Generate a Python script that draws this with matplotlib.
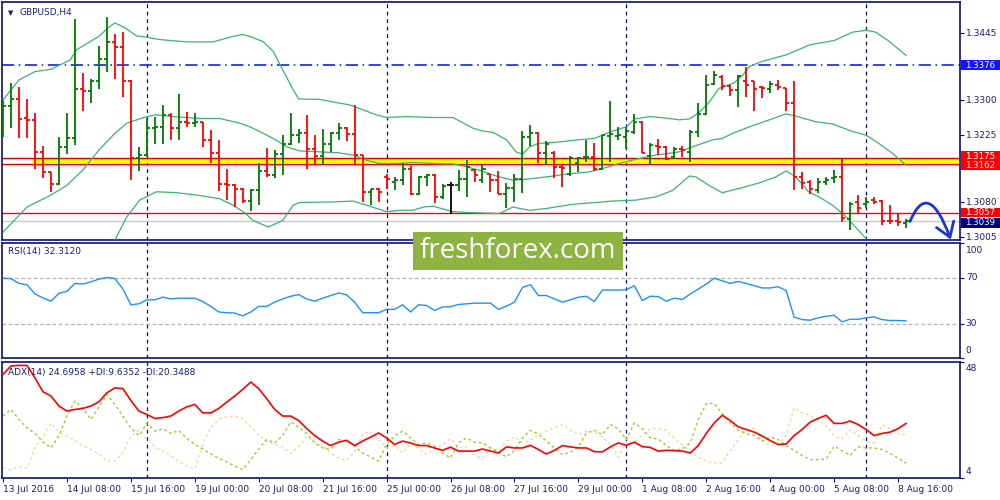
import matplotlib
matplotlib.use("Agg")
import matplotlib.pyplot as plt
import matplotlib.transforms as mtransforms
from matplotlib.collections import LineCollection
from matplotlib.patches import Rectangle, FancyArrowPatch
from matplotlib.path import Path

plt.rcParams['font.family'] = ['DejaVu Sans']

# GBPUSD H4 bars, 13 Jul 2016 00:00 .. 8 Aug 2016 20:00
opens = [1.3283, 1.3288, 1.3302, 1.3261, 1.3258, 1.3189, 1.3145, 1.3119, 1.3200, 1.3218,
         1.3324, 1.3320, 1.3341, 1.3389, 1.3425, 1.3415, 1.3341, 1.3175, 1.3182, 1.3240,
         1.3243, 1.3269, 1.3241, 1.3254, 1.3252, 1.3253, 1.3215, 1.3186, 1.3119, 1.3117,
         1.3109, 1.3083, 1.3106, 1.3147, 1.3139, 1.3184, 1.3206, 1.3225, 1.3229, 1.3195,
         1.3181, 1.3207, 1.3229, 1.3240, 1.3227, 1.3182, 1.3103, 1.3108, 1.3135, 1.3124,
         1.3128, 1.3153, 1.3099, 1.3135, 1.3139, 1.3092, 1.3117, 1.3117, 1.3130, 1.3150,
         1.3128, 1.3142, 1.3129, 1.3099, 1.3112, 1.3130, 1.3222, 1.3229, 1.3186, 1.3186,
         1.3157, 1.3142, 1.3164, 1.3177, 1.3178, 1.3153, 1.3223, 1.3223, 1.3222, 1.3231,
         1.3254, 1.3180, 1.3202, 1.3200, 1.3178, 1.3196, 1.3189, 1.3231, 1.3270, 1.3336,
         1.3350, 1.3331, 1.3323, 1.3342, 1.3341, 1.3328, 1.3324, 1.3333, 1.3326, 1.3294,
         1.3135, 1.3124, 1.3106, 1.3124, 1.3132, 1.3135, 1.3045, 1.3081, 1.3077, 1.3085,
         1.3083, 1.3041, 1.3041, 1.3036]
highs = [1.3301, 1.3337, 1.3328, 1.3303, 1.3272, 1.3202, 1.3145, 1.3220, 1.3272, 1.3476,
         1.3360, 1.3346, 1.3418, 1.3479, 1.3443, 1.3447, 1.3344, 1.3200, 1.3261, 1.3265,
         1.3290, 1.3272, 1.3314, 1.3274, 1.3272, 1.3253, 1.3236, 1.3215, 1.3152, 1.3119,
         1.3112, 1.3108, 1.3166, 1.3198, 1.3193, 1.3225, 1.3272, 1.3238, 1.3269, 1.3225,
         1.3238, 1.3231, 1.3252, 1.3243, 1.3289, 1.3182, 1.3110, 1.3111, 1.3142, 1.3135,
         1.3164, 1.3159, 1.3137, 1.3142, 1.3142, 1.3119, 1.3124, 1.3150, 1.3171, 1.3153,
         1.3160, 1.3142, 1.3147, 1.3121, 1.3142, 1.3233, 1.3247, 1.3231, 1.3213, 1.3191,
         1.3160, 1.3181, 1.3178, 1.3215, 1.3209, 1.3225, 1.3299, 1.3243, 1.3243, 1.3270,
         1.3256, 1.3209, 1.3216, 1.3202, 1.3199, 1.3202, 1.3236, 1.3294, 1.3355, 1.3364,
         1.3355, 1.3333, 1.3355, 1.3371, 1.3342, 1.3331, 1.3342, 1.3344, 1.3326, 1.3342,
         1.3146, 1.3128, 1.3132, 1.3135, 1.3150, 1.3173, 1.3081, 1.3096, 1.3091, 1.3092,
         1.3085, 1.3075, 1.3058, 1.3045]
lows = [1.3222, 1.3241, 1.3218, 1.3218, 1.3153, 1.3132, 1.3103, 1.3117, 1.3184, 1.3204,
        1.3276, 1.3294, 1.3324, 1.3362, 1.3346, 1.3308, 1.3128, 1.3148, 1.3178, 1.3207,
        1.3207, 1.3215, 1.3215, 1.3243, 1.3243, 1.3200, 1.3166, 1.3104, 1.3086, 1.3070,
        1.3079, 1.3062, 1.3075, 1.3135, 1.3132, 1.3140, 1.3204, 1.3209, 1.3153, 1.3160,
        1.3160, 1.3188, 1.3215, 1.3212, 1.3160, 1.3081, 1.3075, 1.3081, 1.3109, 1.3106,
        1.3117, 1.3096, 1.3096, 1.3116, 1.3079, 1.3087, 1.3054, 1.3104, 1.3092, 1.3124,
        1.3122, 1.3103, 1.3099, 1.3068, 1.3080, 1.3101, 1.3202, 1.3166, 1.3160, 1.3133,
        1.3114, 1.3137, 1.3146, 1.3168, 1.3148, 1.3150, 1.3168, 1.3215, 1.3196, 1.3227,
        1.3186, 1.3160, 1.3182, 1.3171, 1.3173, 1.3178, 1.3168, 1.3220, 1.3269, 1.3333,
        1.3323, 1.3310, 1.3285, 1.3308, 1.3278, 1.3306, 1.3315, 1.3323, 1.3277, 1.3106,
        1.3108, 1.3099, 1.3101, 1.3117, 1.3121, 1.3038, 1.3020, 1.3056, 1.3067, 1.3076,
        1.3031, 1.3033, 1.3029, 1.3025]
closes = [1.3288, 1.3302, 1.3259, 1.3258, 1.3189, 1.3145, 1.3119, 1.3200, 1.3218, 1.3324,
          1.3320, 1.3341, 1.3389, 1.3425, 1.3415, 1.3341, 1.3175, 1.3182, 1.3241, 1.3243,
          1.3269, 1.3241, 1.3254, 1.3252, 1.3253, 1.3215, 1.3186, 1.3119, 1.3117, 1.3109,
          1.3083, 1.3106, 1.3147, 1.3139, 1.3184, 1.3206, 1.3225, 1.3229, 1.3195, 1.3181,
          1.3207, 1.3229, 1.3240, 1.3227, 1.3182, 1.3103, 1.3108, 1.3103, 1.3130, 1.3128,
          1.3153, 1.3099, 1.3135, 1.3139, 1.3092, 1.3116, 1.3117, 1.3130, 1.3157, 1.3139,
          1.3151, 1.3129, 1.3099, 1.3112, 1.3130, 1.3222, 1.3229, 1.3186, 1.3206, 1.3157,
          1.3155, 1.3175, 1.3175, 1.3178, 1.3153, 1.3225, 1.3227, 1.3225, 1.3233, 1.3254,
          1.3186, 1.3204, 1.3200, 1.3173, 1.3196, 1.3193, 1.3231, 1.3270, 1.3333, 1.3354,
          1.3331, 1.3323, 1.3353, 1.3333, 1.3324, 1.3326, 1.3335, 1.3328, 1.3294, 1.3134,
          1.3122, 1.3110, 1.3124, 1.3128, 1.3135, 1.3047, 1.3077, 1.3067, 1.3081, 1.3081,
          1.3041, 1.3040, 1.3038, 1.3039]

# Bollinger bands (bar index, price)
bb_up_x = [0, 2, 4, 6, 8.4, 9.2, 12, 13, 14, 15.3, 16.7, 18, 19.6, 23, 26.3, 28.8, 30, 31, 32.5,
           33.8, 35, 36.3, 37, 39.6, 43.4, 46.7, 48, 50.5, 53.8, 56.3, 58.8, 60, 61.3, 63, 64.2,
           65, 65.9, 67, 70, 72, 74, 76, 78, 79, 81, 83.4, 84.6, 85.9, 87, 88.4, 89.6, 91.4,
           92.6, 93.4, 95, 98, 101, 104, 106.3, 108, 109.2, 110.9, 113]
bb_up = [1.3301, 1.3344, 1.3362, 1.3367, 1.3387, 1.3409, 1.3438, 1.3454, 1.3467, 1.3456,
         1.3439, 1.3436, 1.3431, 1.3426, 1.3426, 1.3438, 1.3442, 1.3437, 1.3427, 1.3406,
         1.3366, 1.3323, 1.3303, 1.3302, 1.3290, 1.3269, 1.3263, 1.3265, 1.3263, 1.3263,
         1.3240, 1.3234, 1.3231, 1.3215, 1.3189, 1.3184, 1.3200, 1.3207, 1.3211, 1.3215,
         1.3218, 1.3232, 1.3243, 1.3260, 1.3265, 1.3261, 1.3258, 1.3260, 1.3272, 1.3297,
         1.3326, 1.3337, 1.3355, 1.3373, 1.3384, 1.3398, 1.3420, 1.3429, 1.3447, 1.3451,
         1.3447, 1.3427, 1.3397]
bb_mid_x = [0, 3, 6, 8, 10, 12, 14, 15.5, 18, 19.2, 21.3, 24.6, 27.1, 29.6, 30.9, 32.1, 33.8,
            35.5, 37.1, 39.6, 42, 43.8, 45.5, 47.1, 49.2, 51.3, 53.8, 56.3, 58, 60, 61.7, 63.8,
            65.5, 68, 70.5, 73.4, 75, 77.1, 79.2, 81.7, 84.6, 86.3, 88.8, 90, 91.3, 93.4, 95.9,
            98, 99.2, 101.7, 103.8, 106.3, 108, 109.6, 111.3, 113]
bb_mid = [1.3016, 1.3070, 1.3096, 1.3117, 1.3150, 1.3193, 1.3229, 1.3251, 1.3265, 1.3269,
          1.3265, 1.3261, 1.3261, 1.3251, 1.3243, 1.3233, 1.3218, 1.3200, 1.3191, 1.3189,
          1.3187, 1.3182, 1.3171, 1.3164, 1.3164, 1.3166, 1.3164, 1.3163, 1.3157, 1.3147,
          1.3137, 1.3128, 1.3130, 1.3135, 1.3141, 1.3146, 1.3153, 1.3164, 1.3173, 1.3182,
          1.3189, 1.3200, 1.3215, 1.3218, 1.3229, 1.3243, 1.3258, 1.3271, 1.3266, 1.3254,
          1.3249, 1.3233, 1.3225, 1.3207, 1.3186, 1.3160]
bb_low_x = [14, 15.5, 17.1, 19.2, 21.7, 24.6, 27.1, 28.8, 30.3, 31.3, 33.2, 35, 36.3, 37.1,
            41.3, 43.8, 45.5, 48, 49.6, 51.3, 52.6, 53.8, 56.3, 58.6, 62.1, 63.8, 65.9, 68,
            71.3, 74.2, 76.3, 79.2, 81.7, 83.8, 85.9, 86.7, 88.5, 90, 92.1, 94.6, 96.7, 98,
            99.2, 100.8, 102.1, 103.8, 105.5, 108]
bb_low = [1.2999, 1.3049, 1.3085, 1.3103, 1.3101, 1.3095, 1.3088, 1.3074, 1.3057, 1.3041,
          1.3027, 1.3041, 1.3074, 1.3080, 1.3081, 1.3083, 1.3074, 1.3060, 1.3063, 1.3063,
          1.3070, 1.3072, 1.3060, 1.3058, 1.3056, 1.3070, 1.3063, 1.3067, 1.3076, 1.3080,
          1.3083, 1.3085, 1.3092, 1.3106, 1.3137, 1.3135, 1.3115, 1.3101, 1.3110, 1.3122,
          1.3135, 1.3148, 1.3135, 1.3103, 1.3092, 1.3074, 1.3049, 1.3002]

rsi = [69.4, 69.0, 64.9, 63.7, 55.7, 52.3, 49.4, 56.3, 58.0, 64.9,
       64.3, 66.3, 68.6, 70.0, 69.1, 60.0, 46.3, 47.1, 50.6, 50.6,
       52.9, 51.4, 52.0, 52.0, 52.0, 49.1, 44.9, 40.0, 39.4, 39.1,
       36.6, 40.0, 44.9, 44.9, 48.6, 51.4, 53.7, 55.1, 51.4, 49.4,
       52.0, 54.3, 56.6, 54.9, 48.6, 39.4, 39.4, 39.4, 42.3, 42.3,
       46.3, 40.0, 46.3, 45.7, 41.4, 44.3, 44.6, 46.6, 47.1, 47.7,
       47.7, 47.7, 42.3, 45.1, 48.6, 61.4, 63.7, 54.3, 54.3, 51.4,
       48.6, 50.6, 52.9, 53.7, 49.1, 59.1, 59.1, 59.1, 59.4, 62.9,
       50.0, 53.7, 53.4, 49.4, 52.0, 50.9, 55.7, 60.0, 64.3, 69.4,
       67.1, 64.9, 66.6, 64.9, 62.9, 60.9, 60.9, 62.0, 58.6, 35.5,
       33.4, 32.9, 34.9, 36.3, 37.1, 31.4, 33.7, 33.7, 34.9, 35.7,
       33.4, 32.6, 32.6, 32.3]

adx = [43.3, 46.5, 46.7, 46.7, 42.0, 36.7, 35.1, 31.3, 29.4, 30.0,
       30.4, 31.3, 32.9, 36.3, 38.2, 37.9, 33.4, 29.4, 28.1, 26.6,
       26.9, 27.5, 29.4, 31.0, 31.9, 28.7, 28.7, 30.4, 32.8, 35.1,
       37.6, 40.4, 37.9, 34.1, 30.0, 27.5, 27.5, 25.8, 22.8, 20.1,
       18.0, 16.3, 17.6, 18.3, 16.3, 18.0, 19.5, 21.1, 19.2, 16.7,
       18.0, 17.3, 16.3, 16.3, 15.4, 14.5, 15.7, 14.2, 14.2, 14.2,
       15.0, 14.2, 13.5, 15.8, 15.4, 15.4, 16.4, 14.8, 13.1, 14.5,
       16.3, 15.8, 15.4, 15.4, 14.0, 13.9, 15.8, 17.3, 16.4, 17.6,
       15.9, 15.6, 14.2, 14.5, 14.4, 14.2, 13.5, 16.3, 20.9, 24.9,
       27.8, 25.8, 23.4, 22.4, 21.4, 19.9, 18.2, 16.7, 16.9, 20.1,
       22.4, 25.2, 26.6, 27.8, 24.7, 24.7, 25.6, 24.3, 22.4, 20.1,
       20.9, 21.4, 22.7, 24.7]
plus_di = [27.5, 30.0, 26.2, 23.0, 20.9, 17.7, 15.4, 20.1, 27.5, 33.2,
           30.3, 26.2, 30.9, 35.7, 31.9, 27.5, 23.0, 20.1, 24.7, 21.8,
           22.7, 20.9, 22.1, 19.0, 16.7, 15.0, 13.1, 11.5, 10.1, 8.5,
           7.2, 11.0, 15.0, 18.6, 17.3, 20.1, 25.3, 23.3, 20.9, 17.3,
           15.4, 14.8, 18.6, 18.0, 16.1, 13.5, 12.0, 10.4, 16.7, 19.9,
           21.8, 19.2, 16.7, 17.3, 16.1, 13.5, 11.6, 17.3, 19.2, 17.6,
           17.3, 15.4, 13.8, 12.0, 14.4, 19.2, 22.1, 20.7, 18.0, 15.4,
           12.9, 13.8, 15.8, 21.1, 22.1, 20.5, 24.3, 22.7, 18.6, 24.9,
           22.7, 19.2, 18.8, 16.3, 14.4, 15.0, 17.3, 26.2, 32.3, 32.3,
           28.4, 24.9, 22.1, 20.9, 20.1, 18.0, 19.5, 18.6, 16.3, 14.5,
           12.5, 11.0, 11.0, 11.2, 16.1, 14.4, 12.6, 15.8, 15.4, 15.4,
           14.8, 13.3, 11.6, 9.6]
minus_di = [7.8, 7.2, 8.2, 7.8, 15.4, 19.6, 24.7, 21.5, 19.9, 18.2,
            16.3, 14.8, 13.1, 10.4, 10.4, 13.8, 19.9, 22.1, 18.6, 15.8,
            14.2, 12.5, 10.4, 8.5, 7.4, 17.1, 23.0, 26.2, 27.2, 27.5,
            26.5, 23.3, 20.1, 18.0, 16.7, 15.8, 13.3, 15.8, 19.6, 18.0,
            16.3, 13.5, 11.6, 10.6, 14.2, 20.9, 21.4, 18.6, 15.4, 16.3,
            13.5, 17.3, 15.2, 12.9, 15.0, 16.7, 19.0, 15.4, 15.8, 12.5,
            11.5, 15.4, 14.5, 18.0, 19.6, 17.3, 18.3, 20.5, 21.8, 23.0,
            24.3, 22.0, 20.5, 21.8, 21.4, 19.6, 16.7, 11.9, 17.6, 17.3,
            20.5, 22.7, 22.7, 22.0, 19.0, 16.7, 14.2, 11.9, 10.4, 9.7,
            9.7, 14.5, 18.3, 22.4, 23.0, 18.2, 16.3, 16.7, 20.1, 30.6,
            28.7, 27.7, 25.8, 23.9, 19.9, 18.9, 22.4, 20.1, 18.0, 17.3,
            24.3, 22.7, 20.9, 20.35]

date_ticks = list(range(0, 113, 8))
date_labels = ["13 Jul 2016", "14 Jul 08:00", "15 Jul 16:00", "19 Jul 00:00", "20 Jul 08:00",
               "21 Jul 16:00", "25 Jul 00:00", "26 Jul 08:00", "27 Jul 16:00", "29 Jul 00:00",
               "1 Aug 08:00", "2 Aug 16:00", "4 Aug 00:00", "5 Aug 08:00", "8 Aug 16:00"]
week_lines = [18, 48, 78, 108]
price_ticks = [1.3445, 1.3370, 1.3300, 1.3225, 1.3155, 1.3080, 1.3005]

resistance = 1.3376
zone_top, zone_bot = 1.3175, 1.3162
support = 1.3057
bid = 1.3039
# hand drawn forecast arrow (bar, price)
arrow_pts = [(113.5, 1.3039), (115.0, 1.3100), (116.6, 1.3092), (118.6, 1.3000)]

NAVY = '#0c0c80'
TXT = '#1c1c78'
FS = 6.5
XMAX = 119.75

fig = plt.figure(figsize=(10, 5), dpi=100)
ax = fig.add_axes([0.002, 0.52, 0.958, 0.476])
ax_rsi = fig.add_axes([0.002, 0.284, 0.958, 0.23])
ax_adx = fig.add_axes([0.002, 0.044, 0.958, 0.232])

for a in (ax, ax_rsi, ax_adx):
    a.set_xlim(-0.125, XMAX)
    for s in a.spines.values():
        s.set_color(NAVY)
        s.set_linewidth(1.2)
    for w in week_lines:
        a.axvline(w, color=NAVY, lw=0.9, ls=(0, (3, 3)), zorder=1)
    a.yaxis.tick_right()
    a.tick_params(axis='y', length=3, color=NAVY, labelright=False, labelleft=False)

ax.set_xticks([])
ax_rsi.set_xticks([])

# ---- price panel
ax.set_ylim(1.2999, 1.3512)
ax.set_yticks(price_ticks)

segs, cols = [], []
for i in range(len(opens)):
    o, h, l, c = opens[i], highs[i], lows[i], closes[i]
    col = '#007a00' if c > o else ('#ff0000' if c < o else 'black')
    segs += [[(i, l), (i, h)], [(i - 0.38, o), (i, o)], [(i, c), (i + 0.38, c)]]
    cols += [col] * 3
ax.add_collection(LineCollection(segs, colors=cols, linewidths=1.3, zorder=4))

bb_col = '#3cb371'
ax.plot(bb_up_x, bb_up, color=bb_col, lw=0.9, zorder=3)
ax.plot(bb_mid_x, bb_mid, color=bb_col, lw=0.9, zorder=3)
ax.plot(bb_low_x, bb_low, color=bb_col, lw=0.9, zorder=3)

ax.axhline(resistance, color='#0010e0', lw=1.1, ls=(0, (8, 3, 1, 3)), zorder=2)
ax.axhline(bid, color='#c8c8c8', lw=1, zorder=2)
ax.axhline(support, color='#ff0000', lw=1, zorder=2)
# yellow zone with soft shadow
for k, al in enumerate([0.22, 0.15, 0.09, 0.04]):
    ax.add_patch(Rectangle((3.6, zone_bot - 0.0003 * (k + 1)), XMAX - 3.6, 0.0003,
                           color='#808080', alpha=al, lw=0, zorder=1.5))
ax.add_patch(Rectangle((3.6, zone_bot + 0.0002), XMAX - 3.6, zone_top - zone_bot - 0.0004,
                       color='#ffff00', lw=0, zorder=1.6))
ax.axhline(zone_top, color='#e00000', lw=1, zorder=2)
ax.axhline(zone_bot, color='#e00000', lw=1, zorder=2)

arrow = FancyArrowPatch(path=Path(arrow_pts, [Path.MOVETO, Path.CURVE4, Path.CURVE4, Path.CURVE4]),
                        arrowstyle='->,head_length=0.45,head_width=0.3', mutation_scale=22,
                        color='#1a35cc', lw=2, zorder=6, clip_on=False)
ax.add_patch(arrow)

trm = mtransforms.blended_transform_factory(ax.transAxes, ax.transData)
for p in price_ticks:
    if abs(p - 1.3370) < 1e-6 or abs(p - 1.3155) < 1e-6:
        continue
    ax.text(1.006, p, f"{p:.4f}", transform=trm, fontsize=FS, color=TXT, va='center', ha='left')

# price tags on the right edge; nudged apart where two tags would collide
trf = mtransforms.blended_transform_factory(fig.transFigure, ax.transData)
tag_h = 0.0021
boxes = [(resistance, 0.0, '#1414ff'), (zone_top, 0.00045, '#ff0000'),
         (zone_bot, -0.0002, '#ff0000'), (support, 0.0001, '#ff0000'), (bid, -0.0003, '#000080')]
for k, (p, shift, fc) in enumerate(boxes):
    yc = p + shift
    ax.add_patch(Rectangle((0.961, yc - tag_h / 2), 0.039, tag_h, transform=trf,
                           facecolor=fc, edgecolor='none', clip_on=False, zorder=7 + k))
    ax.text(0.965, yc, f"{p:.4f}", transform=trf, fontsize=6.2, color='white',
            va='center', ha='left', zorder=8 + k, clip_on=False)

ax.text(0.006, 0.955, u"\u25bc", transform=ax.transAxes, fontsize=5, color=TXT, va='center')
ax.text(0.018, 0.955, "GBPUSD,H4", transform=ax.transAxes, fontsize=FS, color=TXT, va='center')

# ---- RSI panel
ax_rsi.set_ylim(0, 100)
ax_rsi.set_yticks([100, 70, 30, 0])
for lvl in (70, 30):
    ax_rsi.axhline(lvl, color='#b4b4b4', lw=0.9, ls=(0, (3, 2)), zorder=1)
ax_rsi.plot(range(len(rsi)), rsi, color='#1e90ff', lw=1, zorder=3)
ax_rsi.text(0.006, 0.93, "RSI(14) 32.3120", transform=ax_rsi.transAxes, fontsize=FS,
            color=TXT, va='center')
trr = mtransforms.blended_transform_factory(ax_rsi.transAxes, ax_rsi.transData)
ax_rsi.text(1.006, 97, "100", transform=trr, fontsize=FS, color=TXT, va='top')
ax_rsi.text(1.006, 70, "70", transform=trr, fontsize=FS, color=TXT, va='center')
ax_rsi.text(1.006, 30, "30", transform=trr, fontsize=FS, color=TXT, va='center')
ax_rsi.text(1.006, 3, "0", transform=trr, fontsize=FS, color=TXT, va='bottom')

# ---- ADX panel
ax_adx.set_ylim(4, 48)
ax_adx.set_yticks([48, 4])
xs = range(len(adx))
ax_adx.plot(xs, minus_di, color='#f5d5a8', lw=1, ls=(0, (2, 2)), zorder=2)
ax_adx.plot(xs, plus_di, color='#9acd32', lw=1, ls=(0, (2, 2)), zorder=2)
ax_adx.plot(xs, adx, color='#ff0000', lw=1.2, zorder=3)
ax_adx.text(0.006, 0.91, "ADX(14) 24.6958 +DI:9.6352 -DI:20.3488", transform=ax_adx.transAxes,
            fontsize=FS, color=TXT, va='center', zorder=5)
tra = mtransforms.blended_transform_factory(ax_adx.transAxes, ax_adx.transData)
ax_adx.text(1.006, 47.2, "48", transform=tra, fontsize=FS, color=TXT, va='top')
ax_adx.text(1.006, 4.8, "4", transform=tra, fontsize=FS, color=TXT, va='bottom')

ax_adx.set_xticks(date_ticks)
ax_adx.set_xticklabels(date_labels, fontsize=FS, color=TXT, ha='left')
ax_adx.tick_params(axis='x', length=3, color=NAVY, pad=2)

# watermark
fig.patches.append(Rectangle((0.413, 0.46), 0.21, 0.076, transform=fig.transFigure,
                             facecolor='#8db440', edgecolor='none', zorder=20))
fig.text(0.518, 0.497, "freshforex.com", fontsize=20, color='white', family='Open Sans',
         ha='center', va='center', zorder=21)

fig.savefig("out.png", dpi=100, facecolor='white')
